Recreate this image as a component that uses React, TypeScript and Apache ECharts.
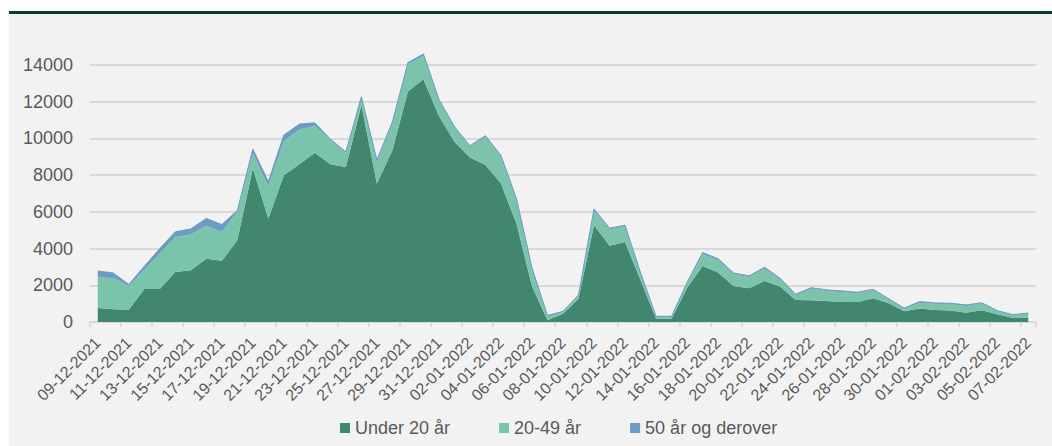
import React, { useEffect, useRef } from "react";
import * as echarts from "echarts";

const categories = [
  "09-12-2021","10-12-2021","11-12-2021","12-12-2021","13-12-2021","14-12-2021","15-12-2021","16-12-2021","17-12-2021","18-12-2021",
  "19-12-2021","20-12-2021","21-12-2021","22-12-2021","23-12-2021","24-12-2021","25-12-2021","26-12-2021","27-12-2021","28-12-2021",
  "29-12-2021","30-12-2021","31-12-2021","01-01-2022","02-01-2022","03-01-2022","04-01-2022","05-01-2022","06-01-2022","07-01-2022",
  "08-01-2022","09-01-2022","10-01-2022","11-01-2022","12-01-2022","13-01-2022","14-01-2022","15-01-2022","16-01-2022","17-01-2022",
  "18-01-2022","19-01-2022","20-01-2022","21-01-2022","22-01-2022","23-01-2022","24-01-2022","25-01-2022","26-01-2022","27-01-2022",
  "28-01-2022","29-01-2022","30-01-2022","31-01-2022","01-02-2022","02-02-2022","03-02-2022","04-02-2022","05-02-2022","06-02-2022",
  "07-02-2022",
];

const under20 = [
  760, 690, 670, 1800, 1800, 2730, 2820, 3440, 3330, 4450,
  8360, 5640, 8000, 8600, 9220, 8600, 8450, 11820, 7550, 9360,
  12550, 13220, 11220, 9820, 8960, 8550, 7550, 5360, 1950, 90,
  450, 1270, 5270, 4150, 4360, 2270, 180, 180, 1850, 3050,
  2690, 1960, 1840, 2240, 1930, 1200, 1180, 1150, 1090, 1090,
  1290, 1020, 580, 730, 650, 620, 510, 640, 420, 220,
  220,
];

const age20to49 = [
  1680, 1710, 1290, 1050, 1930, 1910, 1940, 1800, 1580, 1550,
  820, 1760, 1850, 1890, 1470, 1310, 770, 420, 1180, 1460,
  1500, 1270, 870, 780, 590, 1540, 1450, 1310, 960, 180,
  100, 180, 820, 890, 860, 370, 90, 90, 250, 640,
  690, 640, 610, 670, 400, 250, 640, 540, 550, 470,
  460, 220, 150, 320, 350, 360, 360, 380, 180, 160,
  250,
];

const age50plus = [
  340, 270, 80, 190, 270, 270, 310, 400, 400, 70,
  240, 240, 330, 290, 160, 50, 50, 30, 90, 90,
  80, 110, 40, 40, 50, 60, 70, 60, 40, 80,
  30, 20, 70, 70, 50, 50, 40, 40, 50, 90,
  70, 70, 60, 70, 50, 60, 50, 60, 50, 60,
  30, 30, 30, 60, 40, 40, 60, 30, 20, 20,
  20,
];

const seriesNames = ["Under 20 år", "20-49 år", "50 år og derover"];
const seriesColors = ["#41866f", "#7ac4ac", "#6c9bc4"];
const yTicks = { min: 0, max: 14000, interval: 2000 };

const FONT = "'Liberation Sans', Arial, sans-serif";

export default function App() {
  const ref = useRef<HTMLDivElement>(null);

  useEffect(() => {
    if (!ref.current) return;
    const chart = echarts.init(ref.current, null, { renderer: "svg" });
    const datasets = [under20, age20to49, age50plus];
    chart.setOption({
      animation: false,
      backgroundColor: "transparent",
      textStyle: { fontFamily: FONT },
      grid: { left: 90, right: 16, top: 65, bottom: 124, containLabel: false },
      legend: {
        left: 335,
        top: 414,
        icon: "rect",
        itemWidth: 10,
        itemHeight: 10,
        itemGap: 49,
        data: seriesNames,
        textStyle: { fontFamily: FONT, fontSize: 18, color: "#595959" },
      },
      xAxis: {
        type: "category",
        data: categories,
        boundaryGap: true,
        axisLine: { lineStyle: { color: "#d9d9d9", width: 2 } },
        axisTick: { show: true, interval: 1, length: 5, lineStyle: { color: "#d9d9d9", width: 2 } },
        axisLabel: {
          interval: 1,
          rotate: 45,
          margin: 18,
          fontFamily: FONT,
          fontSize: 16,
          color: "#595959",
        },
        splitLine: { show: false },
      },
      yAxis: {
        type: "value",
        min: yTicks.min,
        max: yTicks.max,
        interval: yTicks.interval,
        axisLine: { show: false },
        axisTick: { show: false },
        axisLabel: {
          margin: 17,
          fontFamily: FONT,
          fontSize: 18,
          color: "#595959",
          formatter: (v: number) => String(v),
        },
        splitLine: { lineStyle: { color: "#d9d9d9", width: 2 } },
      },
      series: seriesNames.map((name, i) => ({
        name,
        type: "line",
        stack: "total",
        data: datasets[i],
        clip: false,
        showSymbol: false,
        symbol: "none",
        color: seriesColors[i],
        lineStyle: { width: i === 2 ? 1 : 0, color: seriesColors[i] },
        areaStyle: { color: seriesColors[i], opacity: 1 },
        emphasis: { disabled: true },
      })),
    });
    return () => chart.dispose();
  }, []);

  return (
    <div style={{ position: "fixed", left: 0, top: 0, width: 1052, height: 446, background: "#ffffff" }}>
      <div style={{ position: "absolute", left: 9, top: 11, width: 1043, height: 3, background: "#003d33" }} />
      <div style={{ position: "absolute", left: 9, top: 14, width: 1043, height: 432, background: "#f2f2f2" }} />
      <div ref={ref} style={{ position: "absolute", left: 0, top: 0, width: 1052, height: 446 }} />
    </div>
  );
}
